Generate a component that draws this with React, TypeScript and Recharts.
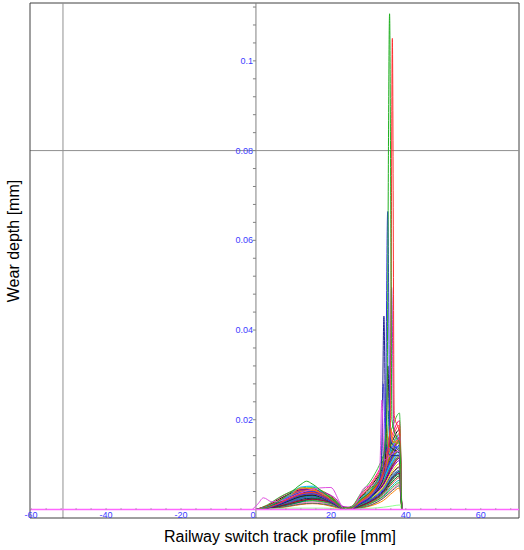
// Wear depth profiles along a railway switch track — many measurement runs overlaid.
import { Line, LineChart, ReferenceLine, XAxis, YAxis } from "recharts";

// ---- axis setup ----
const X_DOMAIN: [number, number] = [-60.3, 70.2];
const Y_DOMAIN: [number, number] = [-0.0019, 0.1129];

const xTicks = [-60, -56, -52, -48, -44, -40, -36, -32, -28, -24, -20, -16, -12, -8, -4, 0, 4, 8, 12, 16, 20, 24, 28, 32, 36, 40, 44, 48, 52, 56, 60, 64, 68];
const xLabelTicks = [-60, -40, -20, 0, 20, 40, 60];
const yTicks = [0.004, 0.008, 0.012, 0.016, 0.02, 0.024, 0.028, 0.032, 0.036, 0.04, 0.044, 0.048, 0.052, 0.056, 0.06, 0.064, 0.068, 0.072, 0.076, 0.08, 0.084, 0.088, 0.092, 0.096, 0.1, 0.104, 0.108, 0.112];
const yLabelTicks = [0.02, 0.04, 0.06, 0.08, 0.1];

// cursor cross lines
const cursorX = -51.5;
const cursorY = 0.08;

// ---- measured runs (depth in µm) on a shared profile grid [mm] ----
const profileX = [0, 3, 6, 9, 12, 15, 18, 21, 23.5, 25.5, 28, 31, 34, 36.5, 38.3, 38.9];

const runDepthsUm: number[][] = [
  [0, 0.3, 1.0, 2.0, 3.0, 3.4, 2.6, 1.2, 0.1, 0.2, 1.3, 3.0, 5.6, 9.6, 11.5, 0],
  [0, 0.5, 1.4, 2.6, 3.6, 3.9, 3.0, 1.5, 0.2, 0.3, 1.9, 3.8, 7.0, 11.8, 13.6, 0],
  [0, 0.2, 0.7, 1.4, 2.2, 2.5, 2.0, 1.0, 0.1, 0.1, 0.9, 2.2, 4.2, 7.2, 8.4, 0],
  [0, 0.6, 1.8, 3.0, 4.0, 4.2, 3.3, 1.8, 0.2, 0.4, 2.3, 4.6, 8.2, 13.4, 15.6, 0],
  [0, 0.1, 0.5, 1.0, 1.6, 1.9, 1.5, 0.7, 0.0, 0.1, 0.6, 1.5, 3.1, 5.4, 6.5, 0],
  [0, 0.4, 1.2, 2.3, 3.3, 3.6, 2.8, 1.4, 0.1, 0.3, 1.7, 3.4, 6.2, 10.5, 12.1, 0],
  [0, 0.8, 2.2, 3.5, 4.4, 4.5, 3.6, 2.0, 0.3, 0.5, 2.8, 5.5, 9.6, 15.4, 17.8, 0],
  [0, 0.2, 0.9, 1.8, 2.6, 3.0, 2.4, 1.1, 0.1, 0.2, 1.1, 2.5, 4.8, 8.2, 9.5, 0],
  [0, 0.3, 0.8, 1.6, 2.3, 2.6, 2.3, 1.6, 0.4, 0.1, 0.7, 1.8, 3.6, 6.3, 7.5, 0],
  [0, 0.5, 1.6, 2.8, 3.9, 4.1, 3.1, 1.6, 0.2, 0.4, 2.1, 4.1, 7.4, 12.2, 14.3, 0],
  [0, 0.1, 0.3, 0.7, 1.1, 1.3, 1.1, 0.5, 0.0, 0.0, 0.3, 0.9, 2.0, 3.8, 4.8, 0],
  [0, 0.4, 1.1, 2.0, 2.8, 3.1, 2.7, 1.8, 0.4, 0.2, 1.3, 2.9, 5.4, 9.3, 10.9, 0],
  [0, 0.9, 2.5, 3.8, 4.6, 4.4, 3.2, 1.6, 0.2, 0.6, 3.3, 6.2, 10.8, 17.0, 19.8, 0],
  [0, 0.2, 0.6, 1.2, 1.9, 2.2, 1.8, 0.9, 0.1, 0.1, 0.8, 1.9, 3.8, 6.7, 7.9, 0],
  [0, 0.6, 1.5, 2.5, 3.4, 3.8, 3.4, 2.2, 0.4, 0.3, 1.8, 3.8, 7.0, 11.4, 13.2, 0],
  [0, 0.3, 1.3, 2.7, 3.8, 4.0, 3.0, 1.4, 0.1, 0.2, 1.5, 3.4, 6.5, 10.7, 12.4, 0],
  [0, 0.7, 1.9, 3.2, 4.3, 4.8, 4.0, 2.3, 0.3, 0.5, 2.6, 5.0, 9.1, 14.6, 16.9, 0],
  [0, 0.2, 0.5, 0.9, 1.4, 1.7, 1.5, 0.9, 0.1, 0.0, 0.4, 1.2, 2.6, 4.6, 5.7, 0],
  [0, 0.4, 1.0, 1.7, 2.4, 2.9, 2.9, 2.0, 0.5, 0.2, 1.1, 2.4, 4.7, 7.9, 9.3, 0],
  [0, 0.5, 1.7, 3.1, 4.4, 4.6, 3.4, 1.7, 0.2, 0.4, 2.2, 4.3, 7.8, 12.8, 15.0, 0],
  [0, 0.3, 0.9, 1.5, 2.0, 2.2, 1.9, 1.2, 0.2, 0.1, 0.7, 1.7, 3.4, 5.9, 7.1, 0],
  [0, 1.0, 2.6, 3.9, 4.8, 5.0, 3.8, 2.0, 0.3, 0.7, 3.6, 6.9, 12.0, 18.6, 21.5, 0],
  [0, 0.2, 0.8, 1.6, 2.5, 2.8, 2.2, 1.0, 0.1, 0.2, 1.1, 2.3, 4.4, 7.5, 8.8, 0],
  [0, 0.6, 1.4, 2.4, 3.1, 3.3, 2.8, 1.7, 0.3, 0.3, 2.0, 3.9, 7.1, 11.7, 13.7, 0],
  [0, 0.4, 1.3, 2.4, 3.5, 3.8, 2.9, 1.5, 0.1, 0.3, 1.7, 3.4, 6.2, 10.2, 11.8, 0],
  [0, 0.1, 0.4, 0.8, 1.2, 1.4, 1.2, 0.7, 0.1, 0.1, 0.4, 1.1, 2.5, 4.3, 5.3, 0],
  [0, 0.7, 2.0, 3.3, 4.2, 4.3, 3.3, 1.8, 0.2, 0.6, 3.0, 5.8, 10.2, 16.2, 18.8, 0],
  [0, 0.3, 0.7, 1.3, 1.8, 2.0, 1.7, 1.0, 0.1, 0.1, 0.5, 1.5, 2.9, 5.0, 6.0, 0],
  [0, 0.5, 1.5, 2.9, 4.1, 4.4, 3.5, 1.9, 0.2, 0.4, 2.0, 4.0, 7.2, 12.0, 14.4, 0],
  [0, 0.3, 1.1, 2.2, 3.1, 3.3, 2.5, 1.2, 0.1, 0.2, 1.2, 2.7, 5.0, 8.7, 10.2, 0],
  [0, 0.4, 1.6, 3.2, 5.0, 5.2, 3.6, 1.6, 0.2, 0.3, 1.7, 3.5, 6.7, 11.1, 12.9, 0],
  [0, 0.3, 1.4, 3.0, 4.8, 4.6, 3.2, 1.5, 0.1, 0.3, 1.4, 3.2, 6.0, 10.0, 11.6, 0],
  [0, 0.6, 1.2, 1.9, 2.7, 3.5, 3.7, 2.6, 0.6, 0.5, 2.4, 4.4, 8.4, 13.8, 16.1, 0],
  [0, 0.2, 0.6, 1.1, 1.7, 2.4, 2.5, 1.7, 0.3, 0.2, 0.9, 2.0, 4.0, 7.2, 8.5, 0],
  [0, 0.8, 1.8, 2.6, 3.2, 3.1, 2.3, 1.2, 0.1, 0.4, 2.1, 4.2, 7.9, 13.2, 15.4, 0],
  [0, 0.4, 1.1, 2.1, 3.0, 3.2, 2.4, 1.1, 0.1, 0.3, 1.6, 3.1, 5.7, 9.9, 11.4, 0],
  [0, 0.6, 1.7, 2.9, 3.7, 3.7, 2.9, 1.6, 0.2, 0.5, 2.5, 4.7, 8.7, 14.2, 16.5, 0],
  [0, 0.2, 0.7, 1.3, 2.0, 2.3, 2.0, 1.3, 0.2, 0.1, 0.8, 2.0, 3.9, 6.9, 8.1, 0],
  [0, 0.5, 1.3, 2.2, 3.0, 3.4, 3.1, 2.0, 0.3, 0.4, 2.2, 4.3, 8.0, 13.0, 15.2, 0],
  [0, 0.1, 0.2, 0.3, 0.3, 0.3, 0.3, 0.2, 0.0, 0.0, 0.2, 0.3, 0.5, 0.8, 1.0, 0],
];

const runColors = [
  "#ff0000", "#00a000", "#0000ff", "#ff00ff", "#00b0b0", "#b0b000", "#000000", "#a00000",
  "#006000", "#000090", "#ff8000", "#8000c0", "#ff0080", "#00d070", "#804000", "#0070ff",
  "#707000", "#ff70b0", "#40a0a0", "#a000a0", "#d04040", "#40c040", "#4040d0", "#c08000",
  "#008080", "#606060", "#ff4040", "#30b030", "#3030ff", "#e0e000", "#00c0ff", "#ff9900",
  "#c000c0", "#008040", "#b04000", "#500090", "#00e0e0", "#900030", "#60a000", "#90ff90",
];

// ---- runs with a sharp peak near the switch blade (own profile points) ----
const spikeGreenX = [0, 3, 6, 9, 12, 13.5, 15, 18, 21, 23.5, 25.5, 28, 31, 33.5, 34.9, 35.66, 36.3, 37.5, 38.3, 38.9];
const spikeGreenUm = [0, 0.5, 1.8, 3.6, 5.6, 6.3, 5.7, 3.8, 1.8, 0.2, 0.4, 2.2, 4.6, 9.5, 20, 110.5, 20, 16, 15, 0];

const spikeRedX = [0, 3, 6, 9, 12, 15, 18, 21, 23.5, 25.5, 28, 31, 34, 35.9, 36.4, 36.9, 38.3, 38.9];
const spikeRedUm = [0, 0.4, 1.3, 2.5, 3.5, 3.8, 3.0, 1.5, 0.1, 0.3, 1.8, 3.9, 8.5, 19, 105, 21, 17, 0];

const spikeBlueX = [0, 3, 6, 9, 12, 15, 18, 21, 23.5, 25.5, 28, 31, 33.5, 34.5, 35.15, 35.8, 37, 38.3, 38.9];
const spikeBlueUm = [0, 0.3, 1.1, 2.2, 3.2, 3.5, 2.7, 1.3, 0.1, 0.2, 1.4, 3.1, 7.5, 15, 66.4, 16, 14, 13, 0];

const spikeNavyX = [0, 3, 6, 9, 12, 15, 18, 21, 23.5, 25.5, 28, 31, 33, 33.6, 34.15, 34.7, 36, 38.3, 38.9];
const spikeNavyUm = [0, 0.5, 1.5, 2.7, 3.7, 3.9, 3.0, 1.5, 0.2, 0.3, 1.5, 3.2, 6.5, 12, 43.1, 14, 12, 12, 0];

const spikePurpleX = [0, 3, 6, 9, 12, 15, 18, 21, 23.5, 25.5, 28, 31, 34, 35.6, 36.2, 36.8, 38.3, 38.9];
const spikePurpleUm = [0, 0.4, 1.2, 2.3, 3.3, 3.5, 2.6, 1.3, 0.1, 0.3, 1.6, 3.4, 7.4, 16, 49.5, 18, 15, 0];

const spikeBlackX = [0, 3, 6, 9, 12, 15, 18, 21, 23.5, 25.5, 28, 31, 34, 34.7, 35.2, 35.8, 37.5, 38.3, 38.9];
const spikeBlackUm = [0, 0.3, 1.0, 2.0, 2.9, 3.2, 2.5, 1.2, 0.1, 0.2, 1.3, 3.0, 7.0, 14, 32, 14, 13, 12.5, 0];

const spikeSlateX = [0, 3, 6, 9, 12, 15, 18, 21, 23.5, 25.5, 28, 31, 33, 33.5, 34.0, 34.6, 36.5, 38.3, 38.9];
const spikeSlateUm = [0, 0.6, 1.7, 2.9, 3.8, 4.0, 3.1, 1.6, 0.2, 0.3, 1.6, 3.4, 6.8, 12, 28, 13, 14, 14, 0];

const spikeOliveX = [0, 3, 6, 9, 12, 15, 18, 21, 23.5, 25.5, 28, 31, 33.8, 34.3, 34.8, 35.3, 37, 38.3, 38.9];
const spikeOliveUm = [0, 0.4, 1.3, 2.4, 3.3, 3.6, 2.9, 1.6, 0.2, 0.3, 1.7, 3.7, 8.5, 12, 20, 14, 15, 14.5, 0];

const spikeTealX = [0, 3, 6, 9, 12, 15, 18, 21, 23.5, 25.5, 28, 31, 34.3, 35.0, 35.5, 36.0, 37.5, 38.3, 38.9];
const spikeTealUm = [0, 0.3, 1.0, 1.9, 2.7, 3.0, 2.4, 1.2, 0.1, 0.2, 1.2, 2.8, 8.0, 12, 22, 13, 14, 13.5, 0];

const spikeOrangeX = [0, 3, 6, 9, 12, 15, 18, 21, 23.5, 25.5, 28, 31, 34.8, 35.5, 36.0, 36.5, 38.3, 38.9];
const spikeOrangeUm = [0, 0.5, 1.6, 2.9, 4.0, 4.3, 3.4, 1.7, 0.2, 0.4, 2.0, 4.1, 9.5, 13, 18, 15, 15.5, 0];

// the pink run with the bump near the web edge
const pinkRunX = [-1, 0.5, 2, 4.3, 7, 10, 13, 17, 20, 22.4, 23.5, 25.5, 26.5, 29, 31.2, 32.6, 33.1, 33.6, 34.2, 36.5, 38.3, 38.9];
const pinkRunUm = [0, 1.2, 2.6, 1.7, 2.0, 3.0, 4.0, 4.8, 4.9, 1.5, 0, 0, 1.0, 4.9, 5.5, 7.0, 10, 24.4, 11, 12.5, 13, 0];

// ---- layout ----
const CHART_W = 524;
const CHART_H = 550;
const AXIS_PAD = 1;
const MARGIN = { top: 3, right: 5, bottom: 32 - AXIS_PAD, left: 30 - AXIS_PAD };
const PLOT_LEFT = MARGIN.left + AXIS_PAD;
const PLOT_W = CHART_W - PLOT_LEFT - MARGIN.right;
const PLOT_H = CHART_H - MARGIN.top - MARGIN.bottom - AXIS_PAD;
const PLOT_BOTTOM = MARGIN.top + PLOT_H;
// pixel position of the origin, where the axes cross inside the plot
const ORIGIN_X = PLOT_LEFT + ((0 - X_DOMAIN[0]) / (X_DOMAIN[1] - X_DOMAIN[0])) * PLOT_W;
const ORIGIN_Y = MARGIN.top + ((Y_DOMAIN[1] - 0) / (Y_DOMAIN[1] - Y_DOMAIN[0])) * PLOT_H;

const TICK_FONT = '"Liberation Sans", Arial, sans-serif';
const TICK_BLUE = "#3c3cff";

type Pt = { x: number; y: number };

function toPoints(xs: number[], um: number[]): Pt[] {
  // µm -> mm
  return xs.map((x, i) => ({ x, y: um[i] / 1000 }));
}

const bulkRuns = runDepthsUm.map((um, i) => ({
  id: `run-${i}`,
  color: runColors[i % runColors.length],
  data: toPoints(profileX, um),
}));

const peakRuns = [
  { id: "peak-teal", color: "#00a0a0", data: toPoints(spikeTealX, spikeTealUm) },
  { id: "peak-orange", color: "#ff8000", data: toPoints(spikeOrangeX, spikeOrangeUm) },
  { id: "peak-olive", color: "#b0b000", data: toPoints(spikeOliveX, spikeOliveUm) },
  { id: "peak-slate", color: "#6060ff", data: toPoints(spikeSlateX, spikeSlateUm) },
  { id: "peak-black", color: "#202020", data: toPoints(spikeBlackX, spikeBlackUm) },
  { id: "peak-navy", color: "#202090", data: toPoints(spikeNavyX, spikeNavyUm) },
  { id: "peak-purple", color: "#b030c0", data: toPoints(spikePurpleX, spikePurpleUm) },
  { id: "peak-blue", color: "#3030e0", data: toPoints(spikeBlueX, spikeBlueUm) },
  { id: "peak-pink", color: "#e050e0", data: toPoints(pinkRunX, pinkRunUm) },
  { id: "peak-red", color: "#ff3030", data: toPoints(spikeRedX, spikeRedUm) },
  { id: "peak-green", color: "#20b020", data: toPoints(spikeGreenX, spikeGreenUm) },
];

const baseline: Pt[] = [
  { x: X_DOMAIN[0], y: 0 },
  { x: X_DOMAIN[1], y: 0 },
];

// x ticks sit on the zero line; labels just above the bottom frame
function ProfileTick(props: any) {
  const { x, payload } = props;
  const v = payload.value as number;
  const labelled = xLabelTicks.includes(v);
  return (
    <g>
      <line x1={x} x2={x} y1={ORIGIN_Y - 1.5} y2={ORIGIN_Y + 0.5} stroke="#c090c0" strokeWidth={1} />
      {labelled && (
        <text
          x={v === 0 ? x - 3 : x}
          y={PLOT_BOTTOM - 0.5}
          textAnchor="middle"
          fontSize={9}
          fontFamily={TICK_FONT}
          fill={TICK_BLUE}
        >
          {v}
        </text>
      )}
    </g>
  );
}

// y ticks drawn along the vertical axis through x = 0
function DepthTick(props: any) {
  const { y, payload } = props;
  const v = payload.value as number;
  const labelled = yLabelTicks.some((t) => Math.abs(t - v) < 1e-9);
  return (
    <g>
      <line x1={ORIGIN_X - 3} x2={ORIGIN_X} y1={y} y2={y} stroke="#808080" strokeWidth={1} />
      {labelled && (
        <text
          x={ORIGIN_X - 3}
          y={y}
          textAnchor="end"
          dominantBaseline="central"
          fontSize={9}
          fontFamily={TICK_FONT}
          fill={TICK_BLUE}
        >
          {String(Number(v.toFixed(3)))}
        </text>
      )}
    </g>
  );
}

export default function App() {
  return (
    <div
      style={{
        position: "absolute",
        left: 0,
        top: 0,
        width: CHART_W,
        height: CHART_H,
        background: "#fff",
        fontFamily: TICK_FONT,
      }}
    >
      <LineChart width={CHART_W} height={CHART_H} margin={MARGIN}>
        <XAxis
          dataKey="x"
          type="number"
          domain={X_DOMAIN}
          allowDataOverflow
          ticks={xTicks}
          interval={0}
          height={AXIS_PAD}
          tickSize={0}
          tickMargin={0}
          tickLine={false}
          axisLine={{ stroke: "#404040" }}
          tick={(p: any) => <ProfileTick {...p} />}
        />
        <YAxis
          dataKey="y"
          type="number"
          domain={Y_DOMAIN}
          allowDataOverflow
          ticks={yTicks}
          interval={0}
          width={AXIS_PAD}
          tickSize={0}
          tickMargin={0}
          tickLine={false}
          axisLine={{ stroke: "#404040" }}
          tick={(p: any) => <DepthTick {...p} />}
        />
        {/* top / right frame */}
        <ReferenceLine y={Y_DOMAIN[1]} stroke="#404040" />
        <ReferenceLine x={X_DOMAIN[1]} stroke="#404040" />
        {/* vertical axis through the origin and the cursor cross */}
        <ReferenceLine x={0} stroke="#808080" />
        <ReferenceLine x={cursorX} stroke="#909090" />
        <ReferenceLine y={cursorY} stroke="#909090" />

        {bulkRuns.map((r) => (
          <Line
            key={r.id}
            data={r.data}
            dataKey="y"
            type="monotone"
            stroke={r.color}
            strokeWidth={1}
            dot={false}
            activeDot={false}
            isAnimationActive={false}
          />
        ))}
        {peakRuns.map((r) => (
          <Line
            key={r.id}
            data={r.data}
            dataKey="y"
            type="monotone"
            stroke={r.color}
            strokeWidth={1}
            dot={false}
            activeDot={false}
            isAnimationActive={false}
          />
        ))}
        <Line
          data={baseline}
          dataKey="y"
          type="linear"
          stroke="#ff66ff"
          strokeWidth={1.5}
          dot={false}
          activeDot={false}
          isAnimationActive={false}
        />
      </LineChart>

      <div
        style={{
          position: "absolute",
          left: 280,
          top: 527,
          transform: "translateX(-50%)",
          fontSize: 16,
          lineHeight: "20px",
          whiteSpace: "nowrap",
          color: "#000",
        }}
      >
        Railway switch track profile [mm]
      </div>
      <div
        style={{
          position: "absolute",
          left: 14,
          top: 241,
          transform: "translate(-50%, -50%) rotate(-90deg)",
          fontSize: 16,
          lineHeight: "20px",
          whiteSpace: "nowrap",
          color: "#000",
        }}
      >
        Wear depth [mm]
      </div>
    </div>
  );
}
